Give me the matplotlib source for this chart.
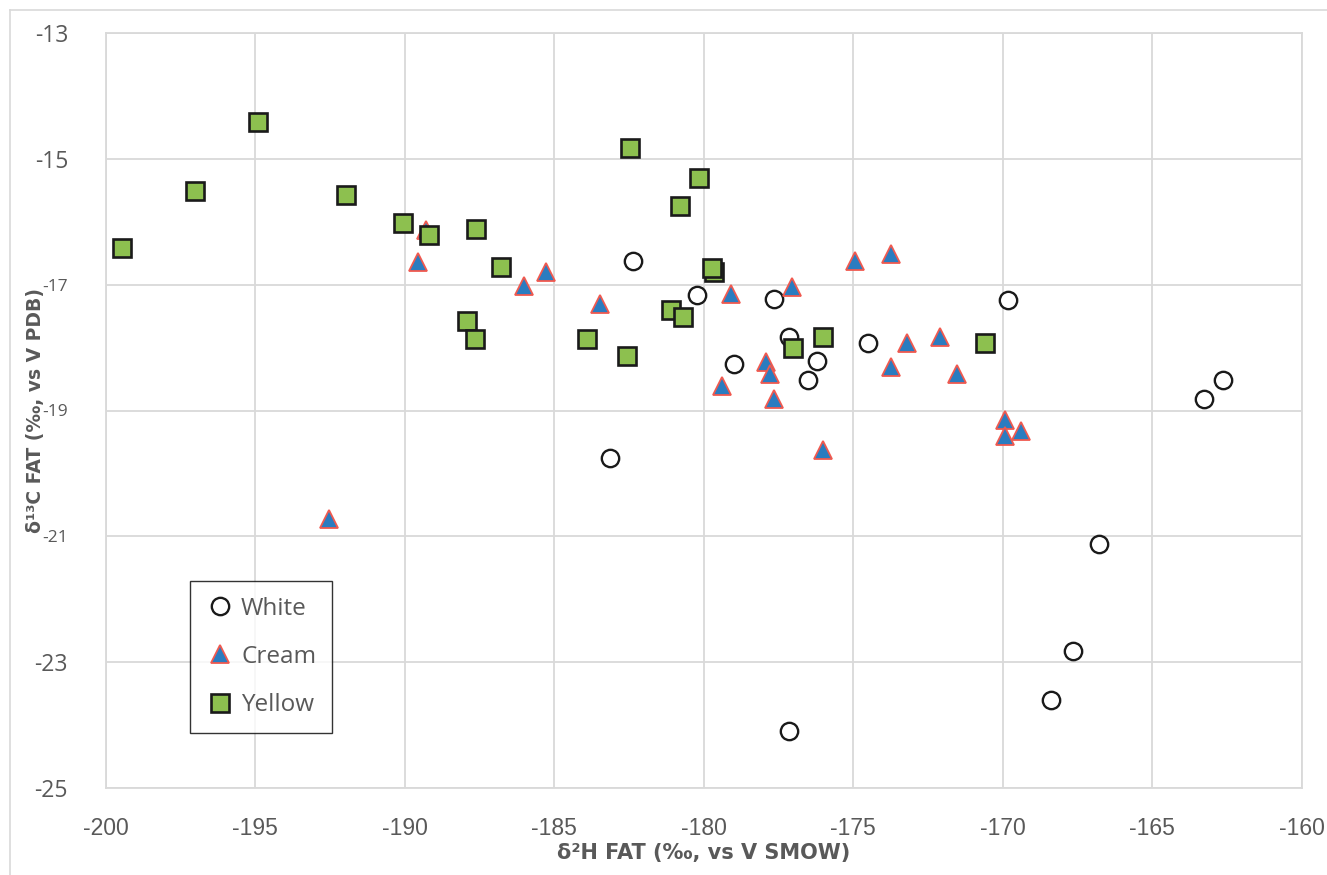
import matplotlib
matplotlib.use("Agg")
import matplotlib.pyplot as plt
from matplotlib.lines import Line2D

plt.rcParams["axes.unicode_minus"] = False

# ---- data ----
white_x = [-183.15, -182.35, -180.23, -177.65, -177.16, -174.52, -179.0, -176.23,
           -176.52, -169.82, -163.26, -162.64, -166.8, -167.65, -168.38, -177.14]
white_y = [-19.75, -16.62, -17.17, -17.22, -17.83, -17.93, -18.26, -18.21,
           -18.51, -17.25, -18.82, -18.51, -21.12, -22.82, -23.60, -24.10]

cream_x = [-189.29, -189.54, -186.0, -185.26, -183.46, -192.53, -179.09, -177.05,
           -174.95, -173.74, -177.93, -177.79, -179.40, -177.65, -176.0, -173.74,
           -173.2, -172.11, -171.53, -169.92, -169.92, -169.38]
cream_y = [-16.13, -16.64, -17.02, -16.80, -17.31, -20.72, -17.15, -17.03,
           -16.62, -16.52, -18.23, -18.42, -18.61, -18.81, -19.62, -18.31,
           -17.92, -17.83, -18.42, -19.15, -19.41, -19.32]

yellow_x = [-199.46, -197.0, -194.89, -191.97, -190.06, -189.17, -187.62, -186.78,
            -187.93, -187.64, -183.89, -182.56, -182.46, -180.15, -180.80, -179.67,
            -179.72, -181.1, -180.69, -177.03, -176.0, -170.6]
yellow_y = [-16.41, -15.51, -14.42, -15.58, -16.02, -16.21, -16.12, -16.72,
            -17.58, -17.87, -17.86, -18.13, -14.83, -15.31, -15.75, -16.80,
            -16.74, -17.41, -17.52, -18.01, -17.83, -17.92]

series_labels = ["White", "Cream", "Yellow"]
x_ticks = list(range(-200, -159, 5))
y_ticks = list(range(-25, -12, 2))
x_label = "δ²H FAT (‰, vs V SMOW)"
y_label = "δ¹³C FAT (‰, vs V PDB)"

# ---- figure ----
W, H = 1327, 875
fig = plt.figure(figsize=(W / 100, H / 100), dpi=100)
fig.patch.set_facecolor("white")
ax = fig.add_axes([105.5 / W, 1 - 788 / H, (1302 - 105.5) / W, (788 - 33) / H])

grid_c = "#d9d9d9"
text_c = "#595959"

ax.plot(white_x, white_y, linestyle="none", marker="o", ms=12.5, mfc="white",
        mec="#1a1a1a", mew=1.7, label=series_labels[0], zorder=3)
ax.plot(cream_x, cream_y, linestyle="none", marker="^", ms=12.5, mfc="#2a7cc0",
        mec="#f0594f", mew=1.3, label=series_labels[1], zorder=4)
ax.plot(yellow_x, yellow_y, linestyle="none", marker="s", ms=12.3, mfc="#8dc04f",
        mec="#1a1a1a", mew=1.9, label=series_labels[2], zorder=5)

ax.set_xlim(-200, -160)
ax.set_ylim(-25, -13)
ax.set_xticks(x_ticks)
ax.set_yticks(y_ticks)
ax.grid(True, color=grid_c, linewidth=1.3, zorder=0)
ax.set_axisbelow(True)
for s in ax.spines.values():
    s.set_color(grid_c)
    s.set_linewidth(1.3)
ax.tick_params(length=0)
ax.tick_params(axis="x", pad=21, labelsize=16.5, labelcolor=text_c)
ax.tick_params(axis="y", pad=27, labelsize=16.5, labelcolor=text_c)
for t in ax.get_xticklabels():
    t.set_family("Liberation Sans")
for t in ax.get_yticklabels():
    t.set_family("Open Sans")
# tick labels next to the y-axis title are squeezed in the original
for t, v in zip(ax.get_yticklabels(), y_ticks):
    if v in (-17, -19, -21):
        t.set_fontsize(12.5)

ax.set_xlabel(x_label, fontsize=15, color=text_c, fontweight="bold",
              family="DejaVu Sans", labelpad=2)
ax.set_ylabel(y_label, fontsize=13.5, color=text_c, fontweight="bold",
              family="DejaVu Sans")
ax.yaxis.set_label_coords((45 - 105.5) / 1196.5, 0.5)

leg = ax.legend(loc="lower left", bbox_to_anchor=((190 - 105.5) / 1196.5, (788 - 733) / 755),
                borderaxespad=0, frameon=True, fancybox=False,
                prop={"family": "Open Sans", "size": 17.5},
                labelspacing=1.0, handlelength=1.15, handletextpad=0.3,
                borderpad=0.65, labelcolor=text_c)
leg.get_frame().set_edgecolor("#000000")
leg.get_frame().set_linewidth(1.0)

# outer chart border
fig.add_artist(Line2D([10 / W, 10 / W], [0, 1 - 10 / H], transform=fig.transFigure,
                      color=grid_c, lw=1.2))
fig.add_artist(Line2D([10 / W, 1], [1 - 10 / H, 1 - 10 / H], transform=fig.transFigure,
                      color=grid_c, lw=1.2))

fig.savefig("out.png", dpi=100)
